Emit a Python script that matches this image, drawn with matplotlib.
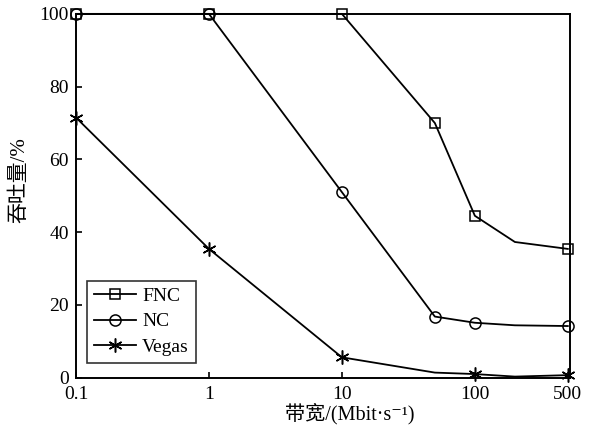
import matplotlib.pyplot as plt
from matplotlib.ticker import FixedLocator, NullLocator

plt.rcParams['font.family'] = ['Liberation Serif', 'Noto Sans CJK SC', 'DejaVu Serif']

bandwidth = [0.1, 1, 10, 50, 100, 200, 500]
fnc = [100, 100, 100, 70, 44.5, 37.3, 35.4]
nc = [100, 100, 51, 16.8, 15.1, 14.4, 14.2]
vegas = [71.5, 35.4, 5.6, 1.4, 1.0, 0.3, 0.7]
marked = [0, 1, 2, 3, 4, 6]
marked_nc = [0, 1, 2, 3, 4, 6]
marked_vegas = [0, 1, 2, 4, 6]
xticks = [0.1, 1, 10, 100, 500]
xtick_labels = ['0.1', '1', '10', '100', '500']

fig = plt.figure(figsize=(5.91, 4.26), dpi=100)
ax = fig.add_axes([0.1286, 0.1134, 0.836, 0.854])

ax.plot(bandwidth, fnc, color='black', lw=1.3, marker='s', markevery=marked,
        ms=7, mfc='none', mew=1.1, label='FNC', clip_on=False)
ax.plot(bandwidth, nc, color='black', lw=1.3, marker='o', markevery=marked_nc,
        ms=8, mfc='none', mew=1.1, label='NC', clip_on=False)
ax.plot(bandwidth, vegas, color='black', lw=1.3, marker=(6, 2, 0), markevery=marked_vegas,
        ms=10, mew=1.1, label='Vegas', clip_on=False)

ax.set_xscale('log')
ax.set_xlim(0.1, 520)
ax.set_ylim(0, 100)
ax.xaxis.set_major_locator(FixedLocator(xticks))
ax.xaxis.set_minor_locator(NullLocator())
ax.set_xticklabels(xtick_labels)
ax.set_yticks([0, 20, 40, 60, 80, 100])
ax.tick_params(direction='in', labelsize=14, length=4, width=1.2, pad=5)
ax.tick_params(axis='x', pad=6)
for s in ax.spines.values():
    s.set_linewidth(1.4)

ax.set_xlabel('带宽/(Mbit·s⁻¹)', fontsize=14.5, labelpad=0)
ax.xaxis.set_label_coords(0.555, -0.069)
ax.set_ylabel('吞吐量/%', fontsize=15)
ax.yaxis.set_label_coords(-0.094, 0.544)

leg = ax.legend(loc='lower left', bbox_to_anchor=(0.002, 0.015), fontsize=14, frameon=True,
                fancybox=False, edgecolor='black', handlelength=2.2, borderpad=0.35,
                labelspacing=0.4, handletextpad=0.3)
leg.get_frame().set_linewidth(1.2)

fig.savefig('out.png', dpi=100)
